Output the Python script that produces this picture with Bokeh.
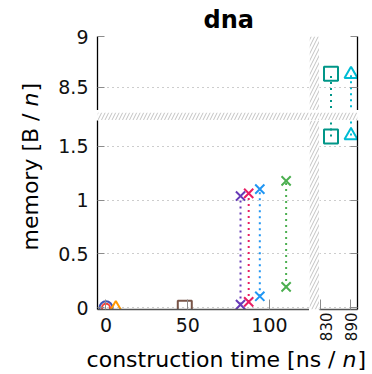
from math import pi
from bokeh.plotting import figure
from bokeh.layouts import row, column
from bokeh.models import (Range1d, LinearAxis, FixedTicker, Grid, BoxAnnotation, Title,
                          ColumnDataSource, CDSView, BooleanFilter, CustomJSTickFormatter)
from bokeh.core.properties import value
from bokeh.embed import file_html
from bokeh.resources import INLINE

# ---------------- data ----------------
algorithms = ["alg1", "alg2", "alg3", "alg4", "alg5", "alg6", "alg7", "alg8", "alg9", "alg10"]
construction_time = [0.0, 0.0, 6.0, 48.2, 82.3, 87.3, 94.1, 110.2, 851.0, 891.0]   # ns/n
memory_low = [0.0, 0.0, 0.0, 0.0, 0.030, 0.055, 0.107, 0.194, 1.592, 1.600]        # B/n
memory_high = [0.0, 0.0, 0.0, 0.0, 1.038, 1.063, 1.103, 1.179, 8.634, 8.630]       # B/n

x_ticks_left = [0, 50, 100]
x_ticks_right = [830, 890]
y_ticks_lower = [0, 0.5, 1, 1.5]
y_ticks_upper = [8.5, 9]

# ---------------- styles ----------------
colors = ["#3f51b5", "#f44336", "#ff9800", "#795548", "#673ab7",
          "#e91e63", "#2196f3", "#4caf50", "#009688", "#00bcd4"]
markers = ["circle", "circle", "triangle", "square", "x", "x", "x", "x", "square", "triangle"]
marker_sizes = [13, 8, 12, 14, 13, 13, 13, 13, 14, 13]

FONT = "DejaVu Sans"
GRID_COLOR = "#9a9a9a"
TICK_COLOR = "#8c8c8c"
HATCH_COLOR = "#c2c2c2"

src = ColumnDataSource(dict(alg=algorithms, t=construction_time, lo=memory_low, hi=memory_high,
                            color=colors, marker=markers, size=marker_sizes))
hi_view = CDSView(filter=BooleanFilter([h != l for h, l in zip(memory_high, memory_low)]))

X_LEFT = (-5.2, 124.5)
X_RIGHT = (828.0, 904.0)
Y_LOW = (-0.0157, 1.740)
Y_UP = (8.2745, 9.0)


def base_fig(width, height, xr, yr, l, r, t, b):
    p = figure(width=width, height=height, x_range=Range1d(*xr), y_range=Range1d(*yr),
               x_axis_type=None, y_axis_type=None, toolbar_location=None,
               output_backend="svg", title=None,
               min_border_left=l, min_border_right=r, min_border_top=t, min_border_bottom=b,
               outline_line_color=None, background_fill_color="white",
               border_fill_color="white")
    return p


def style_axis(ax, ticks, labels=True, line_color="black", tick_in=7, orientation="horizontal",
               font_size="19px", standoff=9):
    ax.ticker = FixedTicker(ticks=ticks, minor_ticks=[])
    ax.formatter = CustomJSTickFormatter(code="return String(tick)" if labels else "return ''")
    ax.axis_line_color = line_color
    ax.axis_line_width = 1.3
    ax.major_tick_in = tick_in
    ax.major_tick_out = 0
    ax.major_tick_line_color = TICK_COLOR
    ax.major_tick_line_width = 1
    ax.minor_tick_line_color = None
    ax.major_label_text_font = FONT
    ax.major_label_text_font_size = font_size if labels else "0px"
    ax.major_label_text_color = "#111111"
    ax.major_label_standoff = standoff if labels else 0
    ax.major_label_orientation = orientation
    return ax


def panel(width, height, xr, yr, yticks, l, r, t, b):
    p = base_fig(width, height, xr, yr, l, r, t, b)
    p.add_layout(Grid(dimension=1, ticker=FixedTicker(ticks=yticks, minor_ticks=[]),
                      grid_line_color=GRID_COLOR, grid_line_dash="1 4", grid_line_width=1))
    p.segment(x0="t", y0="lo", x1="t", y1="hi", source=src, line_color="color",
              line_width=2, line_dash="2 4")
    p.scatter(x="t", y="lo", source=src, marker="marker", size="size",
              line_color="color", fill_color=None, line_width=2)
    p.scatter(x="t", y="hi", source=src, view=hi_view, marker="marker", size="size",
              line_color="color", fill_color=None, line_width=2)
    return p


# ---- panels ----
TL = panel(259, 110, X_LEFT, Y_UP, y_ticks_upper, 47, 0, 36, 0)
TL.add_layout(style_axis(LinearAxis(), y_ticks_upper), "left")
# chart title, centred on the whole plot area (both x panels)
TL.add_layout(Title(text="dna", text_font=FONT, text_font_style="bold", text_font_size="24px",
                    align="left", offset=106, standoff=6, vertical_align="bottom",
                    text_color="black"), "above")

TR = panel(53, 110, X_RIGHT, Y_UP, y_ticks_upper, 0, 15, 36, 0)
TR.add_layout(style_axis(LinearAxis(), y_ticks_upper, labels=False), "right")

BL = panel(259, 224, X_LEFT, Y_LOW, y_ticks_lower, 47, 0, 0, 34)
BL.add_layout(style_axis(LinearAxis(), y_ticks_lower), "left")
BL.add_layout(style_axis(LinearAxis(), x_ticks_left, line_color="#555555", tick_in=10,
                         standoff=8), "below")

BR = panel(53, 224, X_RIGHT, Y_LOW, y_ticks_lower, 0, 15, 0, 34)
BR.add_layout(style_axis(LinearAxis(), y_ticks_lower, labels=False), "right")
BR.add_layout(style_axis(LinearAxis(), x_ticks_right, line_color="#555555", tick_in=10,
                         orientation=pi / 2, font_size="15px", standoff=3), "below")


# ---- hatched axis-break bands ----
def gap(width, height, l, r, t, b):
    p = base_fig(width, height, (0, 1), (0, 1), l, r, t, b)
    p.add_layout(BoxAnnotation(fill_color="white", fill_alpha=1.0, line_color=None,
                               hatch_pattern="/", hatch_color=HATCH_COLOR,
                               hatch_scale=7, hatch_weight=1.0))
    return p


gap_vt = gap(10, 110, 0, 0, 36, 0)
gap_hl = gap(259, 10, 47, 0, 0, 0)
gap_c = gap(10, 10, 0, 0, 0, 0)
gap_hr = gap(53, 10, 0, 15, 0, 0)
gap_vb = gap(10, 224, 0, 0, 0, 34)


# ---- axis-title figures ----
def text_fig(width, height):
    return base_fig(width, height, (0, width), (0, height), 0, 0, 0, 0)


XL = dict(text_font=value(FONT), text_font_size="22px", text_baseline="middle",
          text_color="black")

xlabel_fig = text_fig(322, 30)
XY = 15
xlabel_fig.text(x=[292], y=[XY], text=["construction time [ns / "], text_align="right", **XL)
xlabel_fig.text(x=[292], y=[XY], text=["n"], text_align="left", text_font_style="italic", **XL)
xlabel_fig.text(x=[307], y=[XY], text=["]"], text_align="left", **XL)

ylabel_fig = text_fig(50, 374)
YX = 30
ylabel_fig.text(x=[YX], y=[268], text=["memory [B / "], angle=pi / 2, text_align="right", **XL)
ylabel_fig.text(x=[YX], y=[268], text=["n"], angle=pi / 2, text_align="left",
                text_font_style="italic", **XL)
ylabel_fig.text(x=[YX], y=[283], text=["]"], angle=pi / 2, text_align="left", **XL)

layout = row(
    ylabel_fig,
    column(row(TL, gap_vt, TR),
           row(gap_hl, gap_c, gap_hr),
           row(BL, gap_vb, BR),
           xlabel_fig),
)

open("out.html", "w").write(file_html(layout, INLINE))
